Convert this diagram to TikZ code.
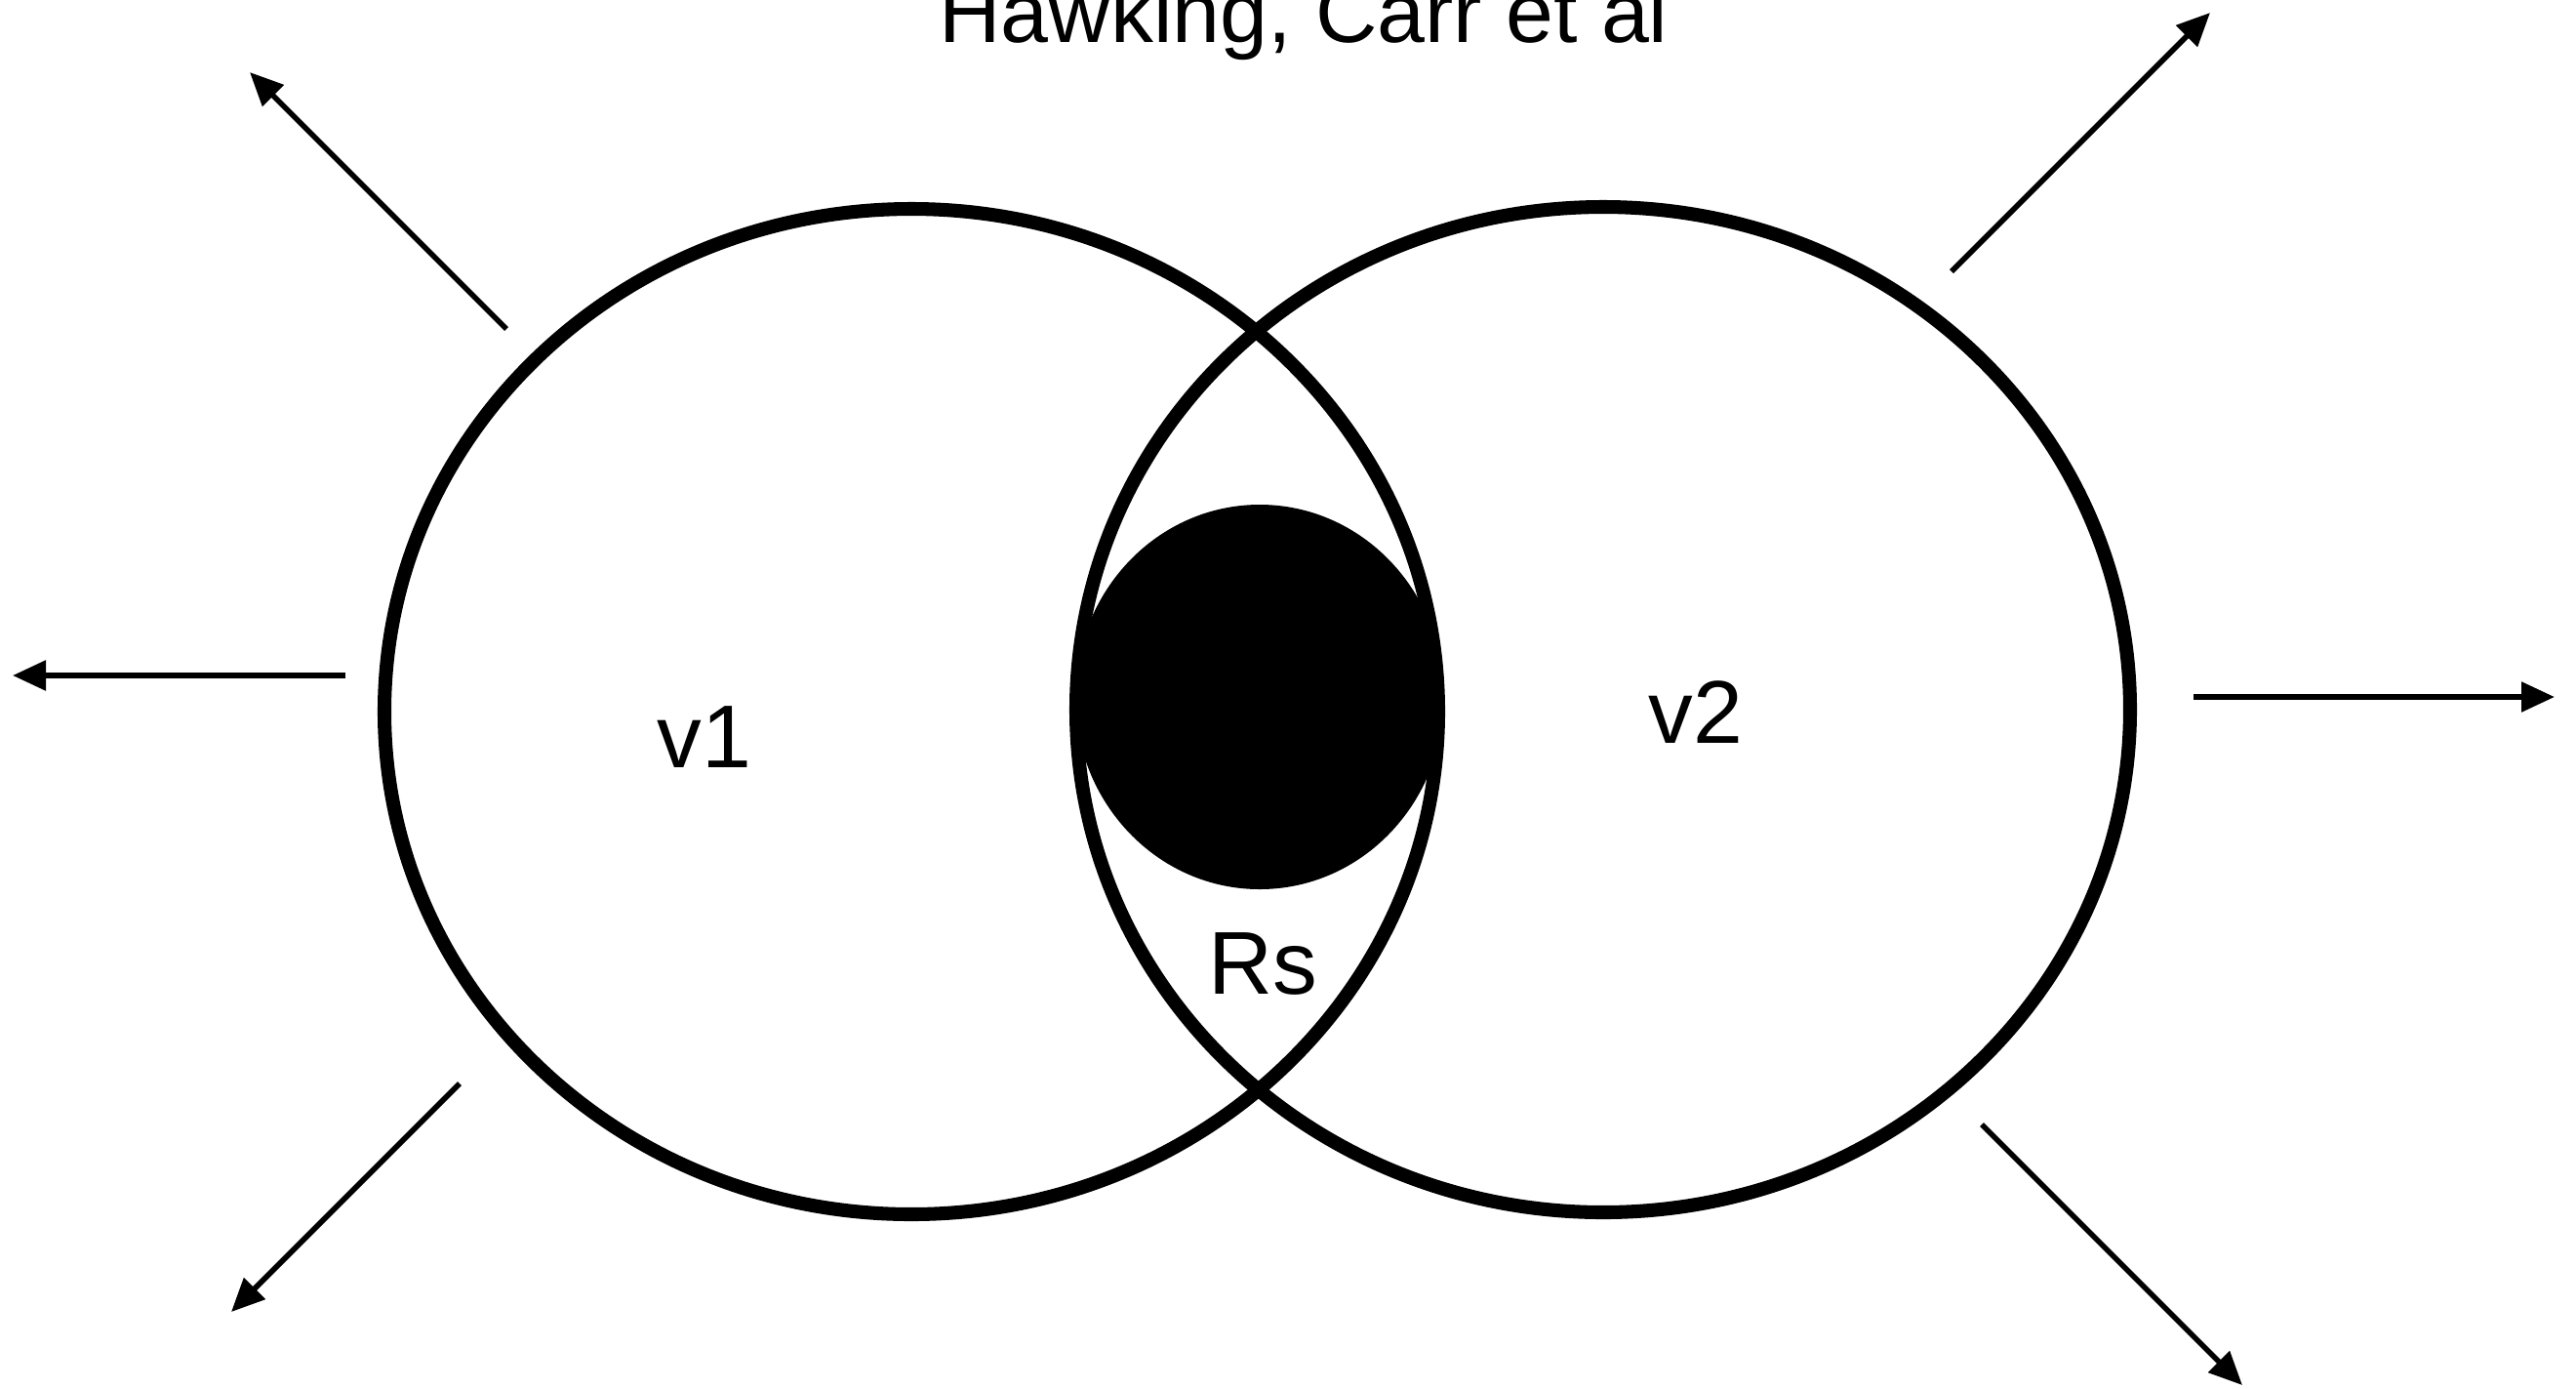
\documentclass[tikz,border=0pt]{standalone}
\usepackage{fontspec}
\setmainfont{Liberation Sans}
\usetikzlibrary{shapes.geometric, arrows.meta, positioning}

\begin{document}
\begin{tikzpicture}
    \tikzstyle{region} = [ellipse, draw, line width=4pt, minimum width=10.8cm, minimum height=10.3cm]
    \tikzstyle{hole} = [ellipse, fill=black, minimum width=3.78cm, minimum height=3.94cm]
    \tikzstyle{tag} = [font=\fontsize{26}{30}\selectfont]
    \tikzstyle{arrow} = [line width=1.6pt, -{Triangle[length=3.4mm,width=3mm]}]

    \useasboundingbox (0,0) rectangle (26.4,-14.22);

    \node[tag, anchor=base, font=\fontsize{25}{30}\selectfont] (title) at (13.36,-0.43) {Hawking, Carr et al};

    \node[hole] (bh) at (12.91,-7.14) {};
    \node[region] (left) at (9.34,-7.29) {};
    \node[region] (right) at (16.43,-7.27) {};

    \node[tag] (v1) at (7.22,-7.55) {v1};
    \node[tag] (v2) at (17.38,-7.30) {v2};
    \node[tag] (rs) at (12.94,-9.87) {Rs};

    % outgoing arrows
    \coordinate (ula) at (5.19,-3.37);  \coordinate (ulb) at (2.56,-0.74);
    \coordinate (la)  at (3.54,-6.92);  \coordinate (lb)  at (0.13,-6.92);
    \coordinate (lla) at (4.71,-11.10); \coordinate (llb) at (2.37,-13.44);
    \coordinate (ura) at (20.00,-2.78); \coordinate (urb) at (22.65,-0.13);
    \coordinate (ra)  at (22.48,-7.14); \coordinate (rb)  at (26.18,-7.14);
    \coordinate (lra) at (20.31,-11.52); \coordinate (lrb) at (22.98,-14.19);

    \draw[arrow] (ula) -- (ulb);
    \draw[arrow] (la) -- (lb);
    \draw[arrow] (lla) -- (llb);
    \draw[arrow] (ura) -- (urb);
    \draw[arrow] (ra) -- (rb);
    \draw[arrow] (lra) -- (lrb);
\end{tikzpicture}
\end{document}
